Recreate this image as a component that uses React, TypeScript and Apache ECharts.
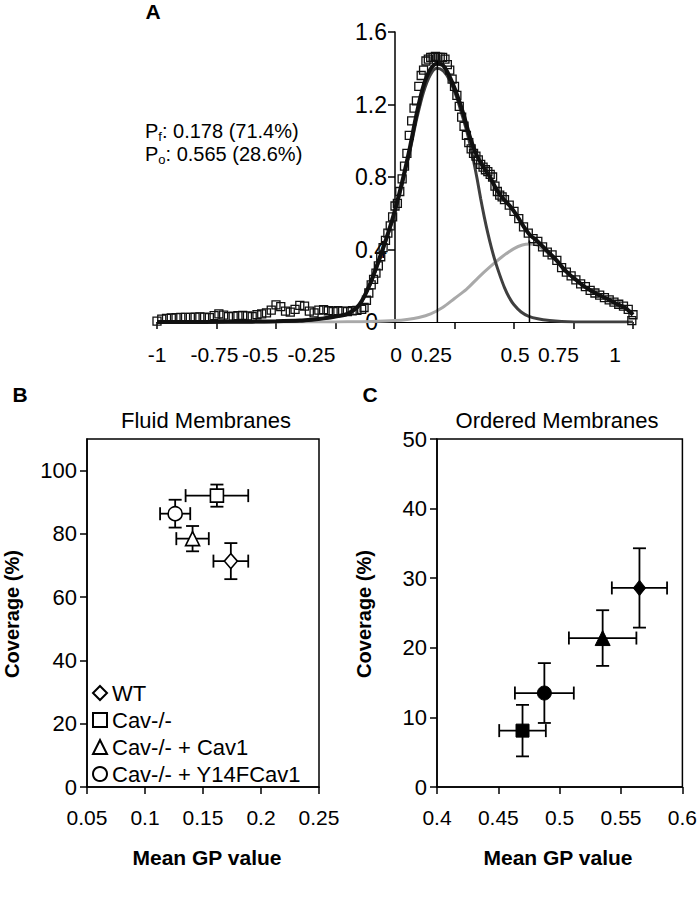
import React, { useEffect, useRef } from 'react';
import * as echarts from 'echarts';

// ---------- Panel A : GP distribution ----------
const histogram: [number, number][] = [
  [-1.0, 0.005], [-0.98, 0.016], [-0.96, 0.02], [-0.94, 0.022], [-0.92, 0.024], [-0.9, 0.025],
  [-0.88, 0.026], [-0.86, 0.025], [-0.84, 0.027], [-0.82, 0.028], [-0.8, 0.027], [-0.78, 0.024],
  [-0.76, 0.035], [-0.74, 0.045], [-0.72, 0.038], [-0.7, 0.03], [-0.68, 0.032], [-0.66, 0.035],
  [-0.64, 0.036], [-0.62, 0.034], [-0.6, 0.03], [-0.58, 0.04], [-0.56, 0.045], [-0.54, 0.05],
  [-0.52, 0.065], [-0.5, 0.095], [-0.48, 0.085], [-0.46, 0.06], [-0.44, 0.055], [-0.42, 0.07],
  [-0.4, 0.092], [-0.38, 0.088], [-0.36, 0.06], [-0.34, 0.05], [-0.32, 0.065], [-0.3, 0.068],
  [-0.28, 0.062], [-0.26, 0.058], [-0.24, 0.062], [-0.22, 0.06], [-0.2, 0.058], [-0.18, 0.062],
  [-0.16, 0.064], [-0.14, 0.07], [-0.13, 0.08], [-0.12, 0.12], [-0.11, 0.16], [-0.1, 0.205],
  [-0.09, 0.235], [-0.08, 0.27], [-0.07, 0.31], [-0.06, 0.36], [-0.05, 0.41], [-0.04, 0.45],
  [-0.03, 0.49], [-0.02, 0.53], [-0.01, 0.58], [0.0, 0.64], [0.01, 0.655], [0.02, 0.72],
  [0.03, 0.79], [0.04, 0.86], [0.05, 0.93], [0.06, 1.03], [0.07, 1.11], [0.08, 1.18],
  [0.09, 1.22], [0.1, 1.3], [0.11, 1.36], [0.12, 1.39], [0.13, 1.44], [0.14, 1.45],
  [0.15, 1.46], [0.16, 1.46], [0.17, 1.465], [0.18, 1.46], [0.19, 1.46], [0.2, 1.46],
  [0.21, 1.45], [0.22, 1.42], [0.23, 1.39], [0.24, 1.34], [0.25, 1.3], [0.26, 1.25],
  [0.27, 1.19], [0.28, 1.13], [0.29, 1.08], [0.3, 1.03], [0.31, 0.99], [0.32, 0.955],
  [0.33, 0.93], [0.34, 0.915], [0.35, 0.895], [0.36, 0.87], [0.37, 0.855], [0.38, 0.84],
  [0.39, 0.83], [0.4, 0.815], [0.41, 0.8], [0.42, 0.75], [0.43, 0.72], [0.44, 0.7],
  [0.45, 0.69], [0.46, 0.675], [0.48, 0.645], [0.5, 0.61], [0.52, 0.57], [0.54, 0.525],
  [0.56, 0.49], [0.58, 0.46], [0.6, 0.445], [0.62, 0.415], [0.64, 0.385], [0.66, 0.37],
  [0.68, 0.34], [0.7, 0.3], [0.72, 0.275], [0.74, 0.255], [0.76, 0.232], [0.78, 0.21],
  [0.8, 0.195], [0.82, 0.175], [0.84, 0.16], [0.86, 0.148], [0.88, 0.135], [0.9, 0.122],
  [0.92, 0.11], [0.94, 0.098], [0.96, 0.088], [0.98, 0.07], [1.0, 0.04], [0.995, 0.008],
];

const sumFit: [number, number][] = [
  [-1.0, 0.0], [-0.8, 0.0], [-0.6, 0.002], [-0.5, 0.004], [-0.4, 0.008], [-0.35, 0.013],
  [-0.3, 0.02], [-0.25, 0.03], [-0.2, 0.045], [-0.15, 0.095], [-0.105, 0.21], [-0.063, 0.36],
  [-0.021, 0.524], [0.007, 0.653], [0.035, 0.8], [0.063, 0.965], [0.091, 1.15], [0.119, 1.3],
  [0.147, 1.39], [0.175, 1.425], [0.203, 1.415], [0.231, 1.35], [0.259, 1.26], [0.287, 1.15],
  [0.315, 1.02], [0.343, 0.92], [0.371, 0.855], [0.399, 0.8], [0.427, 0.73], [0.455, 0.68],
  [0.483, 0.64], [0.511, 0.59], [0.539, 0.53], [0.567, 0.48], [0.595, 0.45], [0.623, 0.414],
  [0.651, 0.377], [0.679, 0.34], [0.707, 0.296], [0.735, 0.26], [0.763, 0.23], [0.791, 0.2],
  [0.819, 0.177], [0.847, 0.156], [0.875, 0.138], [0.903, 0.12], [0.931, 0.1], [0.959, 0.085],
  [0.98, 0.065], [1.0, 0.04],
];

const fluidFit: [number, number][] = [
  [-1.0, 0.0], [-0.6, 0.0], [-0.5, 0.002], [-0.4, 0.006], [-0.35, 0.012], [-0.3, 0.02],
  [-0.25, 0.03], [-0.2, 0.045], [-0.15, 0.092], [-0.105, 0.205], [-0.063, 0.35], [-0.021, 0.515],
  [0.007, 0.64], [0.035, 0.785], [0.063, 0.945], [0.091, 1.12], [0.119, 1.265], [0.147, 1.36],
  [0.175, 1.4], [0.203, 1.385], [0.231, 1.33], [0.259, 1.24], [0.28, 1.15], [0.3, 1.06],
  [0.315, 0.98], [0.33, 0.89], [0.345, 0.79], [0.36, 0.68], [0.375, 0.58], [0.39, 0.49],
  [0.405, 0.41], [0.42, 0.34], [0.44, 0.26], [0.46, 0.19], [0.48, 0.135], [0.5, 0.095],
  [0.53, 0.055], [0.56, 0.033], [0.6, 0.018], [0.65, 0.008], [0.7, 0.003], [0.8, 0.0], [1.0, 0.0],
];

const orderedFit: [number, number][] = [
  [-1.0, 0.0], [-0.3, 0.0], [-0.2, 0.001], [-0.1, 0.003], [0.0, 0.008], [0.05, 0.014],
  [0.1, 0.025], [0.15, 0.045], [0.2, 0.08], [0.25, 0.13], [0.3, 0.18], [0.35, 0.245],
  [0.4, 0.305], [0.45, 0.36], [0.5, 0.405], [0.535, 0.425], [0.565, 0.43], [0.595, 0.425],
  [0.623, 0.4], [0.651, 0.37], [0.679, 0.335], [0.707, 0.293], [0.735, 0.258], [0.763, 0.23],
  [0.791, 0.2], [0.819, 0.177], [0.847, 0.156], [0.875, 0.138], [0.903, 0.12], [0.931, 0.1],
  [0.959, 0.085], [0.98, 0.065], [1.0, 0.04],
];

const peakFluidLine: [number, number][] = [[0.178, 0], [0.178, 1.44]];
const peakOrderedLine: [number, number][] = [[0.565, 0], [0.565, 0.45]];

// ---------- Panels B and C ----------
const groupNames = ['WT', 'Cav-/-', 'Cav-/- + Cav1', 'Cav-/- + Y14FCav1'];

const fluidGP = [0.174, 0.162, 0.141, 0.126];
const fluidGPErr = [0.015, 0.027, 0.014, 0.013];
const fluidCoverage = [71.4, 92.1, 78.5, 86.4];
const fluidCoverageErr = [5.7, 3.5, 4.0, 4.4];

const orderedGP = [0.565, 0.4697, 0.535, 0.4875];
const orderedGPErr = [0.0225, 0.019, 0.0275, 0.024];
const orderedCoverage = [28.6, 8.1, 21.4, 13.5];
const orderedCoverageErr = [5.7, 3.7, 4.0, 4.3];

const fluidYTicks = [0, 20, 40, 60, 80, 100];

// ---------- styles ----------
const FONT = '"Liberation Sans", Arial, Helvetica, sans-serif';
const groupSymbols = ['diamond', 'rect', 'triangle', 'circle'];
const fluidSymbolSizes: any[] = [[13, 15], 13, 14, 14];
const orderedSymbolSizes: any[] = [[12, 15], 13, 15, 14];
const aXLabelShift = [0, -2, -16, -24, 1, -23, 1, -15, -18];
const A_GRID_LEFT = 157;
const A_GRID_WIDTH = 476;

const axisLine = { show: true, onZero: false, lineStyle: { color: '#000', width: 1.5 } };
const axisTick = { show: true, inside: false, length: 7, lineStyle: { color: '#000', width: 1.5 } };
const label = { color: '#000', fontSize: 21, fontFamily: FONT };

function renderErrorBar(params: any, api: any) {
  const x = api.value(0);
  const y = api.value(1);
  const ex = api.value(2);
  const ey = api.value(3);
  const l = api.coord([x - ex, y]);
  const r = api.coord([x + ex, y]);
  const t = api.coord([x, y + ey]);
  const b = api.coord([x, y - ey]);
  const c = 6.5;
  const style = { stroke: '#000', lineWidth: 1.8, fill: null };
  const ln = (x1: number, y1: number, x2: number, y2: number) => ({
    type: 'line',
    shape: { x1, y1, x2, y2 },
    style,
  });
  return {
    type: 'group',
    children: [
      ln(l[0], l[1], r[0], r[1]),
      ln(l[0], l[1] - c, l[0], l[1] + c),
      ln(r[0], r[1] - c, r[0], r[1] + c),
      ln(t[0], t[1], b[0], b[1]),
      ln(t[0] - c, t[1], t[0] + c, t[1]),
      ln(b[0] - c, b[1], b[0] + c, b[1]),
    ],
  };
}

function buildOption() {
  const aXRich: Record<string, any> = {};
  aXLabelShift.forEach((s, i) => {
    aXRich['t' + i] = {
      ...label,
      padding: s < 0 ? [0, -2 * s, 0, 0] : [0, 0, 0, 2 * s],
    };
  });

  const fluidErr = fluidGP.map((x, i) => [x, fluidCoverage[i], fluidGPErr[i], fluidCoverageErr[i]]);
  const orderedErr = orderedGP.map((x, i) => [x, orderedCoverage[i], orderedGPErr[i], orderedCoverageErr[i]]);

  const lineSeries = (data: any, color: string, width: number, z: number) => ({
    type: 'line',
    xAxisIndex: 0,
    yAxisIndex: 0,
    data,
    symbol: 'none',
    showSymbol: false,
    smooth: 0.3,
    lineStyle: { color, width },
    z,
    silent: true,
  });

  const series: any[] = [
    lineSeries(orderedFit, '#a9a9a9', 3, 2),
    lineSeries(fluidFit, '#3f3f3f', 3, 3),
    lineSeries(sumFit, '#111111', 4, 4),
    {
      type: 'scatter',
      xAxisIndex: 0,
      yAxisIndex: 0,
      data: histogram,
      symbol: 'rect',
      symbolSize: 8,
      itemStyle: { color: 'rgba(255,255,255,0)', borderColor: '#111', borderWidth: 1.3, opacity: 1 },
      z: 5,
      silent: true,
    },
    { ...lineSeries(peakFluidLine, '#000', 1.5, 6), smooth: false },
    { ...lineSeries(peakOrderedLine, '#000', 1.5, 6), smooth: false },
    {
      type: 'custom',
      xAxisIndex: 1,
      yAxisIndex: 1,
      data: fluidErr,
      encode: { x: 0, y: 1 },
      renderItem: renderErrorBar,
      z: 2,
      silent: true,
    },
    {
      type: 'custom',
      xAxisIndex: 2,
      yAxisIndex: 2,
      data: orderedErr,
      encode: { x: 0, y: 1 },
      renderItem: renderErrorBar,
      z: 2,
      silent: true,
    },
  ];

  groupNames.forEach((name, i) => {
    series.push({
      type: 'scatter',
      name,
      xAxisIndex: 1,
      yAxisIndex: 1,
      data: [[fluidGP[i], fluidCoverage[i]]],
      symbol: groupSymbols[i],
      symbolSize: fluidSymbolSizes[i],
      itemStyle: { color: '#fff', borderColor: '#000', borderWidth: 1.6, opacity: 1 },
      z: 3,
      silent: true,
    });
    series.push({
      type: 'scatter',
      name: name + ' (ordered)',
      xAxisIndex: 2,
      yAxisIndex: 2,
      data: [[orderedGP[i], orderedCoverage[i]]],
      symbol: groupSymbols[i],
      symbolSize: orderedSymbolSizes[i],
      itemStyle: { color: '#000', borderColor: '#000', borderWidth: 1, opacity: 1 },
      z: 3,
      silent: true,
    });
  });

  const text = (t: string, x: number, y: number, extra: any = {}) => ({
    type: 'text',
    x,
    y,
    silent: true,
    style: {
      text: t,
      fill: '#000',
      fontSize: 22,
      fontFamily: FONT,
      align: 'center',
      verticalAlign: 'middle',
      ...extra,
    },
  });

  const subRich = {
    m: { fontSize: 20, fontFamily: FONT, lineHeight: 24, fill: '#000' },
    s: { fontSize: 13, fontFamily: FONT, lineHeight: 11, verticalAlign: 'bottom', fill: '#000' },
  };

  return {
    animation: false,
    backgroundColor: '#fff',
    textStyle: { fontFamily: FONT },
    grid: [
      { left: A_GRID_LEFT, top: 32, width: A_GRID_WIDTH, height: 290, show: false },
      { left: 87, top: 439, width: 232, height: 348, show: true, borderColor: '#000', borderWidth: 1.5 },
      { left: 437, top: 439, width: 247, height: 348, show: true, borderColor: '#000', borderWidth: 1.5 },
    ],
    xAxis: [
      {
        type: 'value',
        gridIndex: 0,
        min: -1,
        max: 1,
        interval: 0.25,
        axisLine: { show: true, onZero: false, lineStyle: { color: '#000', width: 1 } },
        axisTick,
        splitLine: { show: false },
        axisLabel: {
          ...label,
          margin: 22,
          formatter: (v: number, i: number) => `{t${i}|${v}}`,
          rich: aXRich,
        },
      },
      {
        type: 'value',
        gridIndex: 1,
        min: 0.05,
        max: 0.25,
        interval: 0.05,
        axisLine,
        axisTick,
        splitLine: { show: false },
        axisLabel: { ...label, margin: 20 },
      },
      {
        type: 'value',
        gridIndex: 2,
        min: 0.4,
        max: 0.6,
        interval: 0.05,
        axisLine,
        axisTick,
        splitLine: { show: false },
        axisLabel: { ...label, margin: 20 },
      },
    ],
    yAxis: [
      {
        type: 'value',
        gridIndex: 0,
        min: 0,
        max: 1.6,
        interval: 0.4,
        position: 'left',
        // place the y axis where GP = 0 (middle of the -1..1 range)
        offset: -A_GRID_WIDTH / 2,
        axisLine: { show: true, onZero: false, lineStyle: { color: '#000', width: 1.5 } },
        axisTick,
        splitLine: { show: false },
        axisLabel: {
          ...label,
          fontSize: 23,
          margin: 8,
          formatter: (v: number, i: number) => (i === 0 ? '{z|0}' : String(v)),
          rich: { z: { ...label, fontSize: 23, padding: [0, 9, 0, 0] } },
        },
      },
      {
        type: 'value',
        gridIndex: 1,
        min: 0,
        max: 110,
        interval: 20,
        axisLine,
        axisTick: { ...axisTick, customValues: fluidYTicks },
        splitLine: { show: false },
        axisLabel: { ...label, fontSize: 22, margin: 10, customValues: fluidYTicks },
      },
      {
        type: 'value',
        gridIndex: 2,
        min: 0,
        max: 50,
        interval: 10,
        axisLine,
        axisTick,
        splitLine: { show: false },
        axisLabel: { ...label, fontSize: 22, margin: 10 },
      },
    ],
    legend: {
      data: groupNames,
      orient: 'vertical',
      left: 92,
      top: 682,
      padding: 0,
      itemGap: 5,
      itemWidth: 14,
      itemHeight: 14,
      selectedMode: false,
      textStyle: { color: '#000', fontSize: 22, fontFamily: FONT },
    },
    graphic: [
      text('A', 153, 11, { fontSize: 21, fontWeight: 'bold' }),
      text('B', 20, 394, { fontSize: 21, fontWeight: 'bold' }),
      text('C', 370, 394, { fontSize: 21, fontWeight: 'bold' }),
      text('Fluid Membranes', 206, 420),
      text('Ordered Membranes', 557, 420),
      text('Mean GP value', 207, 857, { fontWeight: 'bold', fontSize: 21 }),
      text('Mean GP value', 558, 857, { fontWeight: 'bold', fontSize: 21 }),
      { ...text('Coverage (%)', 12, 614, { fontWeight: 'bold', fontSize: 20 }), rotation: Math.PI / 2 },
      { ...text('Coverage (%)', 364, 614, { fontWeight: 'bold', fontSize: 20 }), rotation: Math.PI / 2 },
      {
        type: 'text',
        x: 145,
        y: 118.5,
        silent: true,
        style: {
          text: '{m|P}{s|f}{m|: 0.178 (71.4%)}',
          rich: subRich,
          align: 'left',
          verticalAlign: 'top',
        },
      },
      {
        type: 'text',
        x: 145,
        y: 142,
        silent: true,
        style: {
          text: '{m|P}{s|o}{m|: 0.565 (28.6%)}',
          rich: subRich,
          align: 'left',
          verticalAlign: 'top',
        },
      },
    ],
    series,
  };
}

export default function App() {
  const ref = useRef<HTMLDivElement>(null);
  useEffect(() => {
    if (!ref.current) return;
    const chart = echarts.init(ref.current, null, { renderer: 'svg' });
    chart.setOption(buildOption() as any);
    return () => chart.dispose();
  }, []);
  return (
    <div
      ref={ref}
      style={{ position: 'absolute', left: 0, top: 0, width: 700, height: 904, background: '#fff' }}
    />
  );
}
